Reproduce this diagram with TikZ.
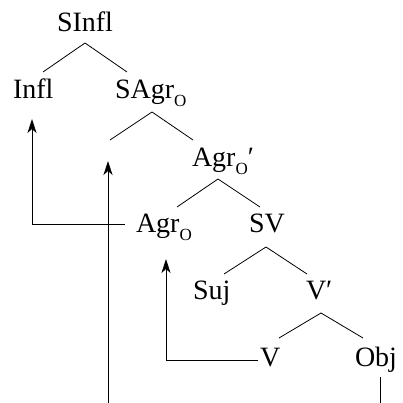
\documentclass[tikz,border=0pt]{standalone}
\usepackage{fontspec}
\setmainfont{Liberation Serif}
\usetikzlibrary{arrows.meta}
\newcommand{\subO}{\raisebox{-8pt}{\fontsize{17}{17}\selectfont O}}
\begin{document}
\begin{tikzpicture}[x=1pt,y=1pt,
  lbl/.style={anchor=base west,inner sep=0pt,outer sep=0pt,font=\fontsize{28}{30}\selectfont},
  branch/.style={line width=0.8pt},
  arr/.style={line width=0.8pt,-{Stealth[length=14pt,width=9pt,inset=4pt]}}]
\useasboundingbox (0,0) rectangle (403,403);
% nodes
\node[lbl] (SInfl) at (57,371) {SInfl};
\node[lbl] (Infl) at (13,304) {Infl};
\node[lbl] (SAgrO) at (115,304) {SAgr\subO};
\node[lbl] (AgrOp) at (192,236) {Agr\subO′};
\node[lbl] (AgrO) at (136,170) {Agr\subO};
\node[lbl] (SV) at (249,170) {SV};
\node[lbl] (Suj) at (193,103) {Suj};
\node[lbl] (Vp) at (306,103) {V′};
\node[lbl] (V) at (260,36) {V};
\node[lbl] (Obj) at (355,36) {Obj};
% branch coordinates
\coordinate (p1) at (85,360); \coordinate (p1l) at (43,331); \coordinate (p1r) at (127,331);
\coordinate (p2) at (152,291); \coordinate (t) at (110,263); \coordinate (p2r) at (193,263);
\coordinate (p3) at (218,224); \coordinate (p3l) at (177,196); \coordinate (p3r) at (260,196);
\coordinate (p4) at (266,156); \coordinate (p4l) at (224,129); \coordinate (p4r) at (307,129);
\coordinate (p5) at (321,90); \coordinate (p5l) at (279,65); \coordinate (p5r) at (363,65);
\draw[branch] (p1l) -- (p1) -- (p1r);
\draw[branch] (t) -- (p2) -- (p2r);
\draw[branch] (p3l) -- (p3) -- (p3r);
\draw[branch] (p4l) -- (p4) -- (p4r);
\draw[branch] (p5l) -- (p5) -- (p5r);
% movement arrows
\coordinate (a1s) at (125,179); \coordinate (a1e) at (32,284);
\draw[arr] (a1s) -| (a1e);
\coordinate (a2s) at (108,0); \coordinate (a2e) at (108,242);
\draw[arr] (a2s) -- (a2e);
\coordinate (a3s) at (258,43); \coordinate (a3e) at (166,144);
\draw[arr] (a3s) -| (a3e);
\coordinate (o1) at (380,26); \coordinate (o2) at (380,0);
\draw[branch] (o1) -- (o2);
\end{tikzpicture}
\end{document}
